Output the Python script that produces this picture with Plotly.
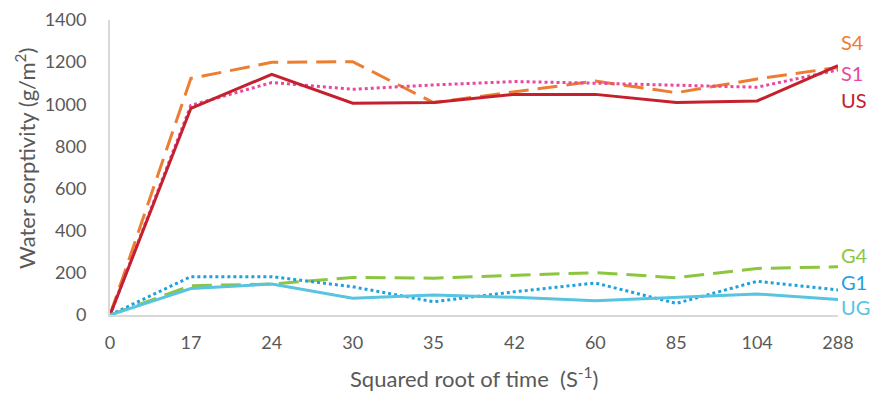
import plotly.graph_objects as go

categories = ["0", "17", "24", "30", "35", "42", "60", "85", "104", "288"]
S4 = [0, 1123, 1199, 1202, 1008, 1060, 1110, 1055, 1120, 1175]
S1 = [0, 995, 1103, 1071, 1092, 1108, 1100, 1092, 1081, 1163]
US = [0, 981, 1142, 1005, 1008, 1047, 1047, 1008, 1016, 1183]
G4 = [0, 139, 147, 178, 175, 188, 201, 177, 221, 229]
G1 = [0, 182, 182, 134, 63, 110, 152, 55, 160, 119]
UG = [0, 126, 147, 79, 95, 84, 68, 84, 100, 73]

series = [
    ("S4", S4, "#ED7D31", "20px,9px", 0.925),
    ("S1", S1, "#E8489F", "dot", 0.820),
    ("US", US, "#C5202E", "solid", 0.729),
    ("G4", G4, "#8CC63F", "20px,9px", 0.203),
    ("G1", G1, "#1FA1E0", "dot", 0.112),
    ("UG", UG, "#58C4E0", "solid", 0.027),
]

fig = go.Figure()
for name, vals, color, dash, ly in series:
    fig.add_trace(go.Scatter(x=list(range(len(categories))), y=vals, mode="lines", name=name,
                             line=dict(color=color, width=3, dash=dash)))
    fig.add_annotation(xref="paper", yref="paper", x=1.002, y=ly, text=name,
                       showarrow=False, xanchor="left", yanchor="middle",
                       font=dict(size=20, color=color, family="Lato"))

# axis titles as annotations so they do not push the margins
fig.add_annotation(xref="paper", yref="paper", x=0.5, y=-0.212, text="Squared root of time  (S<sup>-1</sup>)",
                   showarrow=False, xanchor="center", yanchor="middle",
                   font=dict(size=22, color="#595959", family="Lato"))
fig.add_annotation(xref="paper", yref="paper", x=-0.117, y=0.532, text="Water sorptivity (g/m<sup>2</sup>)",
                   showarrow=False, xanchor="center", yanchor="middle", textangle=-90,
                   font=dict(size=22, color="#595959", family="Lato"))

# page body has an 8px margin; figure is sized so it fits the 879x393 window
fig.update_layout(
    width=871, height=385,
    margin=dict(l=102, r=41, t=12, b=78),
    paper_bgcolor="white", plot_bgcolor="white",
    showlegend=False,
    font=dict(family="Lato", color="#595959", size=18),
)
fig.update_xaxes(
    range=[0, 9], tickmode="array", tickvals=list(range(len(categories))), ticktext=categories,
    showgrid=False, zeroline=False, showline=True, linecolor="#D9D9D9", linewidth=2,
    ticks="", ticklabelstandoff=10, automargin=False,
)
fig.update_yaxes(
    range=[0, 1400], tickvals=[0, 200, 400, 600, 800, 1000, 1200, 1400],
    showgrid=False, zeroline=False, showline=True, linecolor="#D9D9D9", linewidth=2,
    ticks="", ticklabelstandoff=18, automargin=False,
)

fig.write_html("out.html")
